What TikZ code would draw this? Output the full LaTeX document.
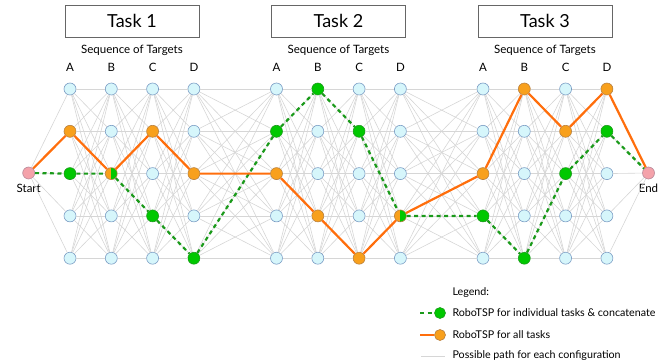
\documentclass[tikz,border=0pt]{standalone}
\usepackage{fontspec}
\setmainfont{Lato}
\usetikzlibrary{positioning}
\definecolor{nodefill}{HTML}{D6F6FB}
\definecolor{nodeedge}{HTML}{7A9CC4}
\definecolor{onodefill}{HTML}{F8A01C}
\definecolor{onodeedge}{HTML}{B88040}
\definecolor{gnodefill}{HTML}{00C800}
\definecolor{gnodeedge}{HTML}{1E9A1E}
\definecolor{oline}{HTML}{FF6E0C}
\definecolor{gline}{HTML}{1A9A1A}
\definecolor{endfill}{HTML}{F4A2AA}
\definecolor{endedge}{HTML}{B88A9A}
\definecolor{greyline}{HTML}{D6D6D6}
\tikzset{
    target/.style = {circle, draw=nodeedge, fill=nodefill, minimum size=12pt, inner sep=0pt, line width=0.6pt},
    onode/.style = {target, draw=onodeedge, fill=onodefill},
    gnode/.style = {target, draw=gnodeedge, fill=gnodefill},
    bothnode/.style = {target, draw=onodeedge, path picture={
        \fill[onodefill] (path picture bounding box.south west) rectangle (path picture bounding box.north);
        \fill[gnodefill] (path picture bounding box.south) rectangle (path picture bounding box.north east);}},
    endnode/.style = {target, draw=endedge, fill=endfill},
    taskbox/.style = {draw=black!60, line width=0.8pt, minimum width=134pt, minimum height=32pt, font=\fontsize{18}{20}\selectfont},
    legendtext/.style = {anchor=west, font=\fontsize{10.7}{12}\selectfont},
}
\tikzset{
    possible/.style = {draw=greyline, line width=0.6pt},
    allpath/.style = {draw=oline, line width=2.2pt, line join=round},
    indpath/.style = {draw=gline, line width=2.2pt, dash pattern=on 4pt off 3.5pt},
}

\begin{document}
\begin{tikzpicture}[x=1pt, y=-1pt, font=\fontsize{11.5}{13}\selectfont]
    \useasboundingbox (0,0) rectangle (665,362);
    % tasks and column headers
    \foreach \t in {0,1,2} {
        \pgfmathsetmacro\xm{70+41.3*(5*\t+1.5)}
        \pgfmathtruncatemacro\k{\t+1}
        \node[taskbox] (task\k) at (\xm,21) {Task \k};
        \node (seq\k) at (\xm,50) {Sequence of Targets};
        \foreach \l [count=\j from 0] in {A,B,C,D} {
            \pgfmathsetmacro\xl{70+41.3*(5*\t+\j)}
            \node (lab\k\l) at (\xl,67.5) {\l};
        }
    }
    % configuration nodes
    \foreach \c in {1,...,12} {
        \pgfmathtruncatemacro\t{(\c-1)/4}
        \pgfmathsetmacro\x{70+41.3*(\c-1+\t)}
        \pgfmathtruncatemacro\ro{{2,3,2,3,3,4,5,4,3,1,2,1}[\c-1]}
        \pgfmathtruncatemacro\rg{{3,3,4,5,2,1,2,4,4,5,3,2}[\c-1]}
        \foreach \r in {1,...,5} {
            \pgfmathsetmacro\y{46.7+42.3*\r}
            \def\sty{target}
            \ifnum\r=\ro \def\sty{onode}\fi
            \ifnum\r=\rg \def\sty{gnode}\ifnum\r=\ro \def\sty{bothnode}\fi\fi
            \node[\sty] (n-\c-\r) at (\x,\y) {};
        }
    }
    \node[endnode] (start) at (28.7,173) {};
    \node[endnode] (end) at (648.5,173) {};
    \node[below=1pt of start] (startlab) {Start};
    \node[below=1pt of end] (endlab) {End};
    % possible paths
    \foreach \c [evaluate=\c as \d using int(\c+1)] in {1,...,11}
        \foreach \r in {1,...,5}
            \foreach \s in {1,...,5}
                \draw[possible] (n-\c-\r) -- (n-\d-\s);
    \foreach \r in {1,...,5} {
        \draw[possible] (start) -- (n-1-\r);
        \draw[possible] (n-12-\r) -- (end);
    }
    % individual tasks, concatenated
    \draw[indpath] (start) -- (n-1-3) -- (n-2-3) -- (n-3-4) -- (n-4-5) -- (n-5-2) -- (n-6-1)
        -- (n-7-2) -- (n-8-4) -- (n-9-4) -- (n-10-5) -- (n-11-3) -- (n-12-2) -- (end);
    % all tasks at once
    \draw[allpath] (start) -- (n-1-2) -- (n-2-3) -- (n-3-2) -- (n-4-3) -- (n-5-3) -- (n-6-4)
        -- (n-7-5) -- (n-8-4) -- (n-9-3) -- (n-10-1) -- (n-11-2) -- (n-12-1) -- (end);
    % legend
    \node[legendtext] (legend) at (449,293) {Legend:};
    \node[gnode, minimum size=11pt] (lgind) at (440,313) {};
    \node[onode, minimum size=11pt] (lgall) at (440,335) {};
    \coordinate (lgind0) at (420,313);
    \coordinate (lgall0) at (420,335);
    \coordinate (lgpos0) at (421,356);
    \coordinate (lgpos1) at (445,356);
    \draw[indpath] (lgind0) -- (lgind);
    \draw[allpath] (lgall0) -- (lgall);
    \draw[possible] (lgpos0) -- (lgpos1);
    \node[legendtext] (txtind) at (449,313) {RoboTSP for individual tasks \& concatenate};
    \node[legendtext] (txtall) at (449,335) {RoboTSP for all tasks};
    \node[legendtext] (txtpos) at (449,356) {Possible path for each configuration};
\end{tikzpicture}
\end{document}
